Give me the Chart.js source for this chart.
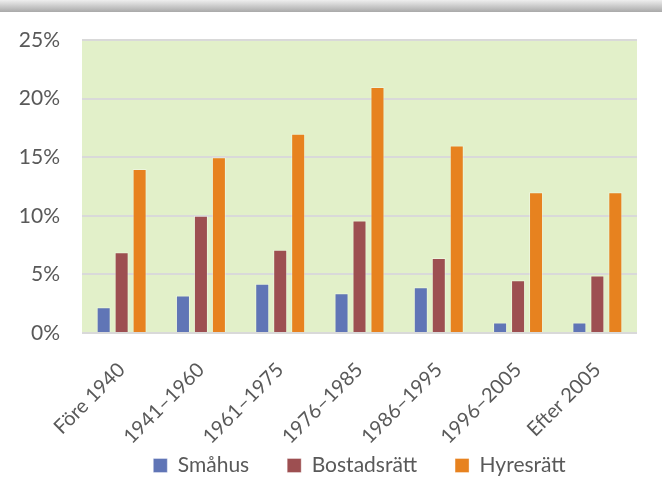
<!DOCTYPE html>
<html>
<head>
<meta charset="utf-8">
<script src="https://cdn.jsdelivr.net/npm/chart.js@4.4.0/dist/chart.umd.min.js"></script>
<style>
    html, body { margin: 0; padding: 0; background: #ffffff; }
    #wrap { position: relative; width: 662px; height: 480px; }
</style>
</head>
<body>
<div id="wrap"><canvas id="myChart" width="662" height="480"></canvas></div>
<script>
// data
const categories = ['Före 1940', '1941–1960', '1961–1975', '1976–1985', '1986–1995', '1996–2005', 'Efter 2005'];
const smahus = [2.2, 3.2, 4.2, 3.4, 3.9, 0.9, 0.9];
const bostadsratt = [6.9, 10.0, 7.1, 9.6, 6.4, 4.5, 4.9];
const hyresratt = [14, 15, 17, 21, 16, 12, 12];
const yTicks = [0, 5, 10, 15, 20, 25];

const textColor = '#595959';
const fontFamily = 'Lato, "Open Sans", sans-serif';

// grey strip at the top + green plot background
const backdrop = {
    id: 'backdrop',
    beforeDraw(chart) {
        let ctx = chart.ctx;
        let a = chart.chartArea;
        ctx.save();
        let g = ctx.createLinearGradient(0, 0, 0, 12);
        g.addColorStop(0, '#eeeeee');
        g.addColorStop(1, '#a9a9a9');
        ctx.fillStyle = g;
        ctx.fillRect(0, 0, chart.width, 12);
        ctx.fillStyle = '#e2f0c9';
        ctx.fillRect(a.left, a.top, a.right - a.left, a.bottom - a.top);
        ctx.restore();
    }
};

let ctx = document.getElementById('myChart').getContext('2d');
let myChart = new Chart(ctx, {
    type: 'bar',
    data: {
        labels: categories,
        datasets: [
            { label: 'Småhus', data: smahus, backgroundColor: '#6075b6', borderColor: 'rgba(255,255,255,0.35)', borderWidth: 1 },
            { label: 'Bostadsrätt', data: bostadsratt, backgroundColor: '#9d4f51', borderColor: 'rgba(255,255,255,0.35)', borderWidth: 1 },
            { label: 'Hyresrätt', data: hyresratt, backgroundColor: '#e7821f', borderColor: 'rgba(255,255,255,0.35)', borderWidth: 1 }
        ]
    },
    options: {
        responsive: false,
        animation: false,
        categoryPercentage: 0.68,
        barPercentage: 0.78,
        layout: { padding: { top: 40, right: 25, left: 0, bottom: -6 } },
        plugins: {
            legend: {
                position: 'bottom',
                fullSize: false,
                labels: {
                    color: textColor,
                    font: { family: fontFamily, size: 21 },
                    boxWidth: 14,
                    boxHeight: 14,
                    padding: 38
                }
            },
            tooltip: { enabled: false }
        },
        scales: {
            x: {
                grid: { display: false },
                border: { display: false },
                afterFit: axis => {
                    axis.height = 84;
                    // let the slanted labels run down into the legend's padding
                    axis._computeLabelArea = () => null;
                },
                ticks: {
                    color: textColor,
                    font: { family: fontFamily, size: 20 },
                    minRotation: 45,
                    maxRotation: 45,
                    padding: 17
                }
            },
            y: {
                min: 0,
                max: 25,
                afterBuildTicks: axis => { axis.ticks = yTicks.map(v => ({ value: v })); },
                afterFit: axis => { axis.width = 82; },
                grid: { color: '#d9d9d9', lineWidth: 2, drawTicks: false },
                border: { display: false },
                ticks: {
                    color: textColor,
                    font: { family: fontFamily, size: 21 },
                    padding: 22,
                    callback: v => v + '%'
                }
            }
        }
    },
    plugins: [backdrop]
});
</script>
</body>
</html>
